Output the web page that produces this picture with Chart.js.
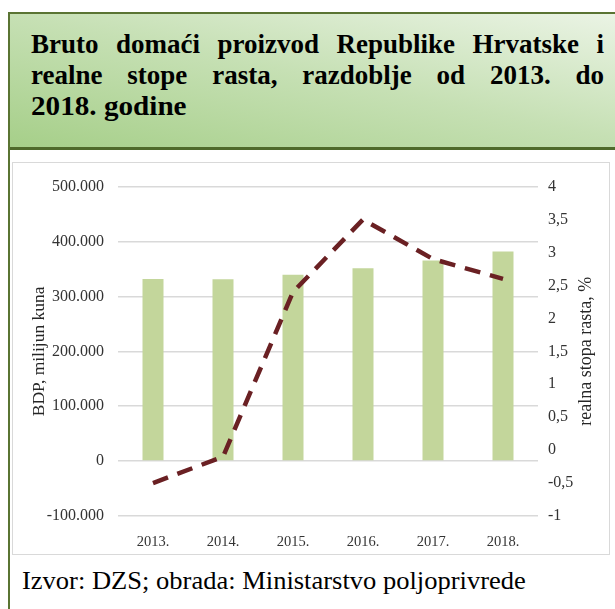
<!DOCTYPE html>
<html>
<head>
<meta charset="utf-8">
<script src="https://cdn.jsdelivr.net/npm/chart.js@4"></script>
<style>
    body { margin: 0; background: #fff; width: 615px; height: 609px; overflow: hidden; position: relative; font-family: "Liberation Serif", serif; }
    #header {
        position: absolute; left: 8px; top: 12px; width: 650px; height: 138px; box-sizing: border-box;
        border-top: 2px solid #5a7433; border-left: 2px solid #5a7433; border-bottom: 3px solid #4f6a2b;
        background: linear-gradient(to top right, #a6cf89 0%, #c6e0b4 50%, #edf5e8 100%);
    }
    #leftRule { position: absolute; left: 8px; top: 12px; width: 2px; height: 620px; background: #5a7433; }
    #title { position: absolute; left: 31px; top: 29px; width: 573px; font-size: 27px; font-weight: bold; line-height: 31px; color: #000; }
    #title span { display: block; text-align: justify; text-align-last: justify; white-space: nowrap; }
    #title span.last { text-align-last: left; transform: scaleX(1.08); transform-origin: left center; }
    #chartBox { position: absolute; left: 12px; top: 162px; width: 598px; height: 393px; box-sizing: border-box; border: 1px solid #d9d9d9; }
    #chartBox canvas { position: absolute; left: 0; top: 0; }
    #source { position: absolute; left: 22px; top: 565px; font-size: 26px; line-height: 32px; color: #000; white-space: nowrap; transform: scaleX(1.02); transform-origin: left center; }
</style>
</head>
<body>
<div id="header"></div>
<div id="leftRule"></div>
<div id="title">
    <span>Bruto domaći proizvod Republike Hrvatske i</span>
    <span>realne stope rasta, razdoblje od 2013. do</span>
    <span class="last">2018. godine</span>
</div>
<div id="chartBox"><canvas id="bdpChart" width="596" height="391"></canvas></div>
<div id="source">Izvor: DZS; obrada: Ministarstvo poljoprivrede</div>

<script>
const years = ['2013.', '2014.', '2015.', '2016.', '2017.', '2018.'];
const bdp = [331800, 331300, 339600, 351200, 365600, 382000];   // milijun kuna
const stopaRasta = [-0.5, -0.1, 2.4, 3.5, 2.9, 2.6];             // %

const leftTitle = 'BDP, milijun kuna';
const rightTitle = 'realna stopa rasta, %';

function formatThousands(v) {
    const s = Math.abs(v).toString().replace(/\B(?=(\d{3})+(?!\d))/g, '.');
    return (v < 0 ? '-' : '') + s;
}

// rotated axis titles, both read bottom to top
const axisTitles = {
    id: 'axisTitles',
    afterDraw(chart) {
        const ctx = chart.ctx;
        const mid = (chart.chartArea.top + chart.chartArea.bottom) / 2;
        ctx.save();
        ctx.fillStyle = '#262626';
        ctx.textAlign = 'center';
        ctx.textBaseline = 'middle';

        ctx.save();
        ctx.translate(26, mid);
        ctx.rotate(-Math.PI / 2);
        ctx.font = '17.5px "Liberation Serif"';
        ctx.fillText(leftTitle, 0, 0);
        ctx.restore();

        ctx.save();
        ctx.translate(573, mid);
        ctx.rotate(-Math.PI / 2);
        ctx.font = '18px "Liberation Serif"';
        ctx.fillText(rightTitle, 0, 0);
        ctx.restore();

        ctx.restore();
    }
};

const ctx = document.getElementById('bdpChart').getContext('2d');
new Chart(ctx, {
    data: {
        labels: years,
        datasets: [
            {
                type: 'line',
                label: 'Realna stopa rasta',
                data: stopaRasta,
                yAxisID: 'y1',
                borderColor: '#6a2023',
                borderWidth: 4.5,
                borderDash: [16, 10],
                pointRadius: 0,
                tension: 0,
                order: 0
            },
            {
                type: 'bar',
                label: 'BDP',
                data: bdp,
                yAxisID: 'y',
                backgroundColor: '#c3d69b',
                categoryPercentage: 1,
                barPercentage: 0.3,
                order: 1
            }
        ]
    },
    options: {
        responsive: false,
        devicePixelRatio: 1,
        animation: false,
        layout: { padding: { top: 16, left: 0, right: 0, bottom: 0 } },
        plugins: {
            legend: { display: false },
            tooltip: { enabled: false }
        },
        scales: {
            x: {
                grid: { display: false, drawTicks: false },
                border: { display: false },
                ticks: {
                    color: '#333',
                    font: { family: 'Liberation Serif', size: 14.5 },
                    padding: 17,
                    maxRotation: 0
                },
                afterFit(scale) { scale.height = 38; }
            },
            y: {
                position: 'left',
                min: -100000,
                max: 500000,
                grid: { color: '#d9d9d9', lineWidth: 1.5, drawTicks: false },
                border: { display: false },
                ticks: {
                    stepSize: 100000,
                    color: '#333',
                    font: { family: 'Liberation Serif', size: 16 },
                    padding: 14,
                    callback: v => formatThousands(v)
                },
                afterFit(scale) { scale.width = 105; }
            },
            y1: {
                position: 'right',
                min: -1,
                max: 4,
                grid: { display: false, drawTicks: false },
                border: { display: false },
                ticks: {
                    stepSize: 0.5,
                    color: '#333',
                    font: { family: 'Liberation Serif', size: 16 },
                    padding: 10,
                    callback: v => v.toString().replace('.', ',')
                },
                afterFit(scale) { scale.width = 71; }
            }
        }
    },
    plugins: [axisTitles]
});
</script>
</body>
</html>
